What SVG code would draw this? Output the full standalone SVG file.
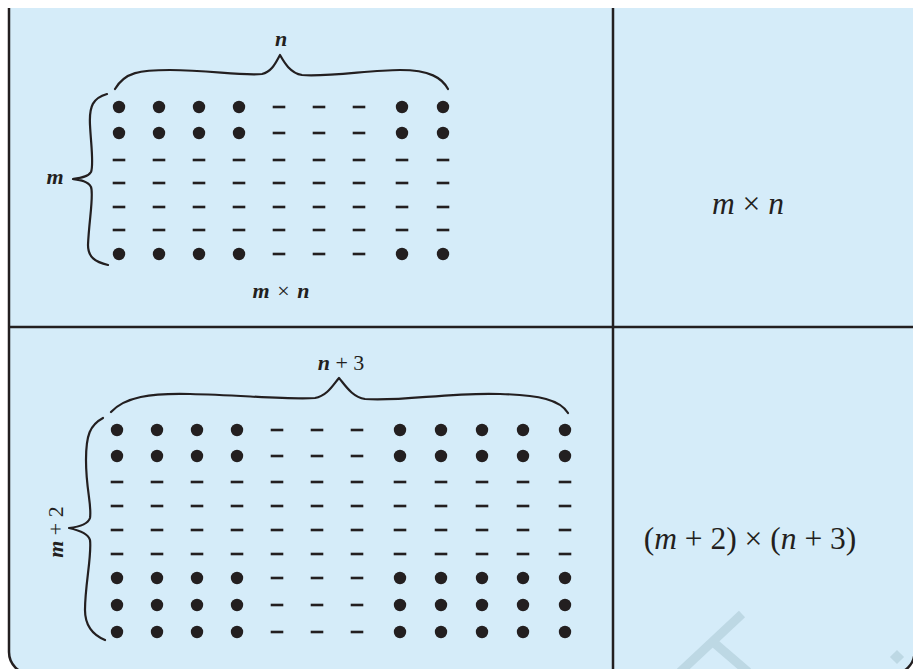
<svg xmlns="http://www.w3.org/2000/svg" xmlns:xlink="http://www.w3.org/1999/xlink" width="913" height="669" viewBox="0 0 913 669">
<style>
.frame{fill:#d5ecf9;stroke:#231f20;stroke-width:2.5}
.div{stroke:#231f20;stroke-width:2.5;fill:none}
.brace{fill:none;stroke:#231f20;stroke-width:2.2;stroke-linecap:round;stroke-linejoin:round}
.lbl{font-family:"Liberation Serif","Times New Roman",serif;font-size:22px;fill:#231f20}
.var{font-weight:bold;font-style:italic}
.expr{font-family:"Liberation Serif","Times New Roman",serif;font-size:31.5px;fill:#231f20}
.it{font-style:italic}
.wm{stroke:#bdd8e4;stroke-width:9;fill:none}
.grid{fill:#231f20}
</style>
<defs>
<circle id="dot" r="6.2"/>
<rect id="dash" x="-6.3" y="-1.3" width="12.6" height="2.6"/>
<g id="tD"><use href="#dot" x="119"/><use href="#dot" x="159"/><use href="#dot" x="199"/><use href="#dot" x="239"/><use href="#dash" x="279"/><use href="#dash" x="319"/><use href="#dash" x="359"/><use href="#dot" x="402"/><use href="#dot" x="443"/></g>
<g id="tL"><use href="#dash" x="119"/><use href="#dash" x="159"/><use href="#dash" x="199"/><use href="#dash" x="239"/><use href="#dash" x="279"/><use href="#dash" x="319"/><use href="#dash" x="359"/><use href="#dash" x="402"/><use href="#dash" x="443"/></g>
<g id="bD"><use href="#dot" x="117"/><use href="#dot" x="157"/><use href="#dot" x="197"/><use href="#dot" x="237"/><use href="#dash" x="277"/><use href="#dash" x="317"/><use href="#dash" x="357"/><use href="#dot" x="400"/><use href="#dot" x="441"/><use href="#dot" x="482"/><use href="#dot" x="523"/><use href="#dot" x="565"/></g>
<g id="bL"><use href="#dash" x="117"/><use href="#dash" x="157"/><use href="#dash" x="197"/><use href="#dash" x="237"/><use href="#dash" x="277"/><use href="#dash" x="317"/><use href="#dash" x="357"/><use href="#dash" x="400"/><use href="#dash" x="441"/><use href="#dash" x="482"/><use href="#dash" x="523"/><use href="#dash" x="565"/></g>
</defs>
<rect x="0" y="0" width="913" height="669" fill="#ffffff"/>
<rect class="frame" x="9" y="-40" width="905.5" height="714" rx="22" ry="22"/>
<rect x="0" y="0" width="913" height="8" fill="#ffffff"/>
<g id="watermark">
<line class="wm" x1="680" y1="672" x2="742" y2="614"/>
<line class="wm" x1="712" y1="641" x2="748" y2="672"/>
<rect x="892" y="652" width="10" height="10" fill="#bdd8e4" transform="rotate(45 897 657)"/>
</g>
<g id="dividers">
<line class="div" x1="613" y1="8" x2="613" y2="669"/>
<line class="div" x1="9" y1="327" x2="913" y2="327"/>
</g>
<g id="cell-tl">
<g class="grid">
<use href="#tD" y="107"/><use href="#tD" y="133"/>
<use href="#tL" y="160"/><use href="#tL" y="183"/><use href="#tL" y="207"/><use href="#tL" y="230"/>
<use href="#tD" y="254"/>
</g>
<text class="lbl var" x="281" y="46" text-anchor="middle">n</text>
<text class="lbl var" x="55" y="184" text-anchor="middle">m</text>
<text class="lbl" x="281" y="298" text-anchor="middle" word-spacing="2"><tspan class="var">m</tspan> × <tspan class="var">n</tspan></text>
</g>
<g id="cell-tr">
<text class="expr" x="748" y="214" text-anchor="middle"><tspan class="it">m</tspan> × <tspan class="it">n</tspan></text>
</g>
<g id="cell-bl">
<g class="grid">
<use href="#bD" y="430"/><use href="#bD" y="456"/>
<use href="#bL" y="482"/><use href="#bL" y="506"/><use href="#bL" y="530"/><use href="#bL" y="554"/>
<use href="#bD" y="578"/><use href="#bD" y="605"/><use href="#bD" y="632"/>
</g>
<text class="lbl" x="341" y="370" text-anchor="middle"><tspan class="var">n</tspan> + 3</text>
<text class="lbl" transform="translate(63,532) rotate(-90)" text-anchor="middle"><tspan class="var">m</tspan> + 2</text>
</g>
<g id="cell-br">
<text class="expr" x="750" y="549" text-anchor="middle">(<tspan class="it">m</tspan> + 2) × (<tspan class="it">n</tspan> + 3)</text>
</g>
<g id="connectors">
<path class="brace" d="M115,89 C125,72 140,70 170,70 C210,70 240,76 262,74 C272,72 276,62 280,55 C284,62 290,73 302,75 C330,77 370,70 400,70 C430,70 442,78 448,89"/>
<path class="brace" d="M107,94 C93,98 89,106 90,125 C91,145 94,165 91,172 C88,177 80,178 73,179 C80,180 88,181 91,187 C94,195 89,220 88,245 C88,257 95,262 108,265"/>
<path class="brace" d="M111,412 C125,397 150,393 190,394 C240,395 290,400 315,398 C327,396 333,385 339,378 C345,385 352,397 365,399 C400,402 450,392 500,394 C540,395 560,400 568,413"/>
<path class="brace" d="M103,418 C90,425 86,435 86,460 C86,490 92,505 90,518 C88,524 78,527 69,528 C78,530 88,533 90,540 C92,555 85,585 85,610 C85,625 93,635 105,640"/>
</g>
</svg>
